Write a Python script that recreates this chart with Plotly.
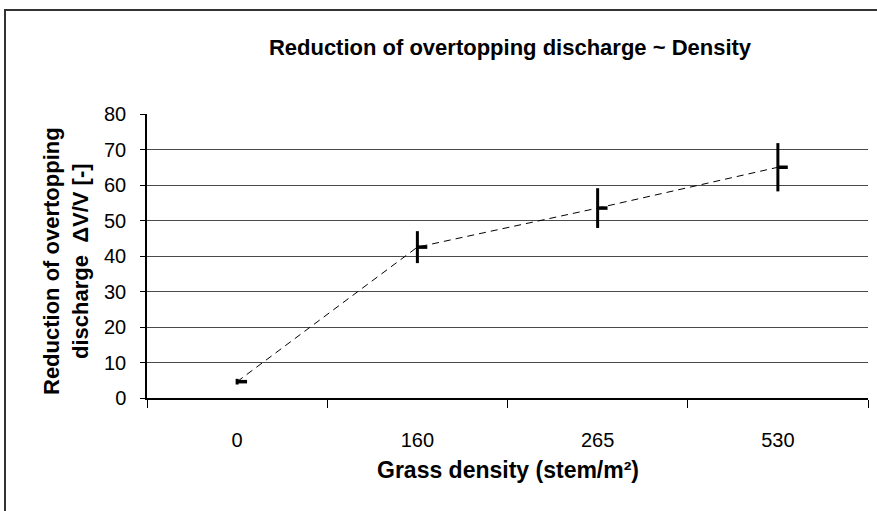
import plotly.graph_objects as go

# Grass density categories (stem/m²) and measured reduction of overtopping discharge
densities = ["0", "160", "265", "530"]
reduction = [4.6, 42.5, 53.5, 65.0]
spread = [0.8, 4.5, 5.6, 6.8]
y_ticks = [0, 10, 20, 30, 40, 50, 60, 70, 80]

FONT = "Liberation Sans, Arial, sans-serif"
pos = list(range(len(densities)))

fig = go.Figure()

# dashed trend line through the mean values
fig.add_trace(go.Scatter(
    x=pos, y=reduction, mode="lines",
    line=dict(color="black", width=1, dash="7px,5px"),
    hoverinfo="skip", showlegend=False,
))

# mean values: vertical spread bar plus a short dash to the right of it
fig.add_trace(go.Scatter(
    x=pos, y=reduction, mode="markers",
    marker=dict(size=1, color="rgba(0,0,0,0)"),
    error_y=dict(type="data", array=spread, visible=True, color="black",
                 thickness=3, width=0),
    error_x=dict(type="data", array=[0.055] * len(pos), arrayminus=[0.0] * len(pos),
                 symmetric=False, visible=True, color="black", thickness=3.5, width=0),
    showlegend=False,
))

fig.update_layout(
    width=877, height=511,
    margin=dict(l=147, r=9, t=114, b=113),
    paper_bgcolor="white", plot_bgcolor="white",
    font=dict(family=FONT, color="black", size=20),
    title=dict(text="<b>Reduction of overtopping discharge ~ Density</b>",
               x=510 / 877, xanchor="center", y=1 - 47 / 511, yanchor="middle",
               font=dict(size=22, family=FONT)),
    showlegend=False,
)

fig.update_xaxes(
    range=[-0.5, 3.5], tickvals=pos, ticktext=densities, ticks="",
    minor=dict(tick0=-0.5, dtick=1, ticks="outside", ticklen=8, tickwidth=1.2,
               tickcolor="black", showgrid=False),
    showgrid=False, zeroline=False,
    showline=True, linecolor="black", linewidth=1.5,
    tickfont=dict(size=20, family=FONT), ticklabelstandoff=23,
)

fig.update_yaxes(
    range=[0, 80], tickvals=y_ticks, ticks="outside", ticklen=5, tickwidth=1.2,
    tickcolor="black", showgrid=True, gridcolor="#4a4a4a", gridwidth=1.3,
    showline=True, linecolor="black", linewidth=1.5, zeroline=False,
    tickfont=dict(size=20, family=FONT), ticklabelstandoff=10,
)

# axis titles
fig.add_annotation(
    text="<b>Reduction of overtopping</b><br><b>discharge  ΔV/V [-]</b>",
    xref="paper", yref="paper", x=(66 - 147) / 721, y=(398 - 261) / 284,
    xanchor="center", yanchor="middle", textangle=-90, showarrow=False,
    font=dict(size=22, family=FONT),
)
fig.add_annotation(
    text="<b>Grass density (stem/m²)</b>",
    xref="paper", yref="paper", x=(508 - 147) / 721, y=(398 - 470) / 284,
    xanchor="center", yanchor="middle", showarrow=False,
    font=dict(size=23, family=FONT),
)

# chart-area frame
fig.add_shape(
    type="rect", xref="paper", yref="paper",
    x0=(5 - 147) / 721, x1=(900 - 147) / 721,
    y0=(398 - 530) / 284, y1=(398 - 10) / 284,
    line=dict(color="#333333", width=2), fillcolor="rgba(0,0,0,0)", layer="below",
)

fig.write_html("out.html")
